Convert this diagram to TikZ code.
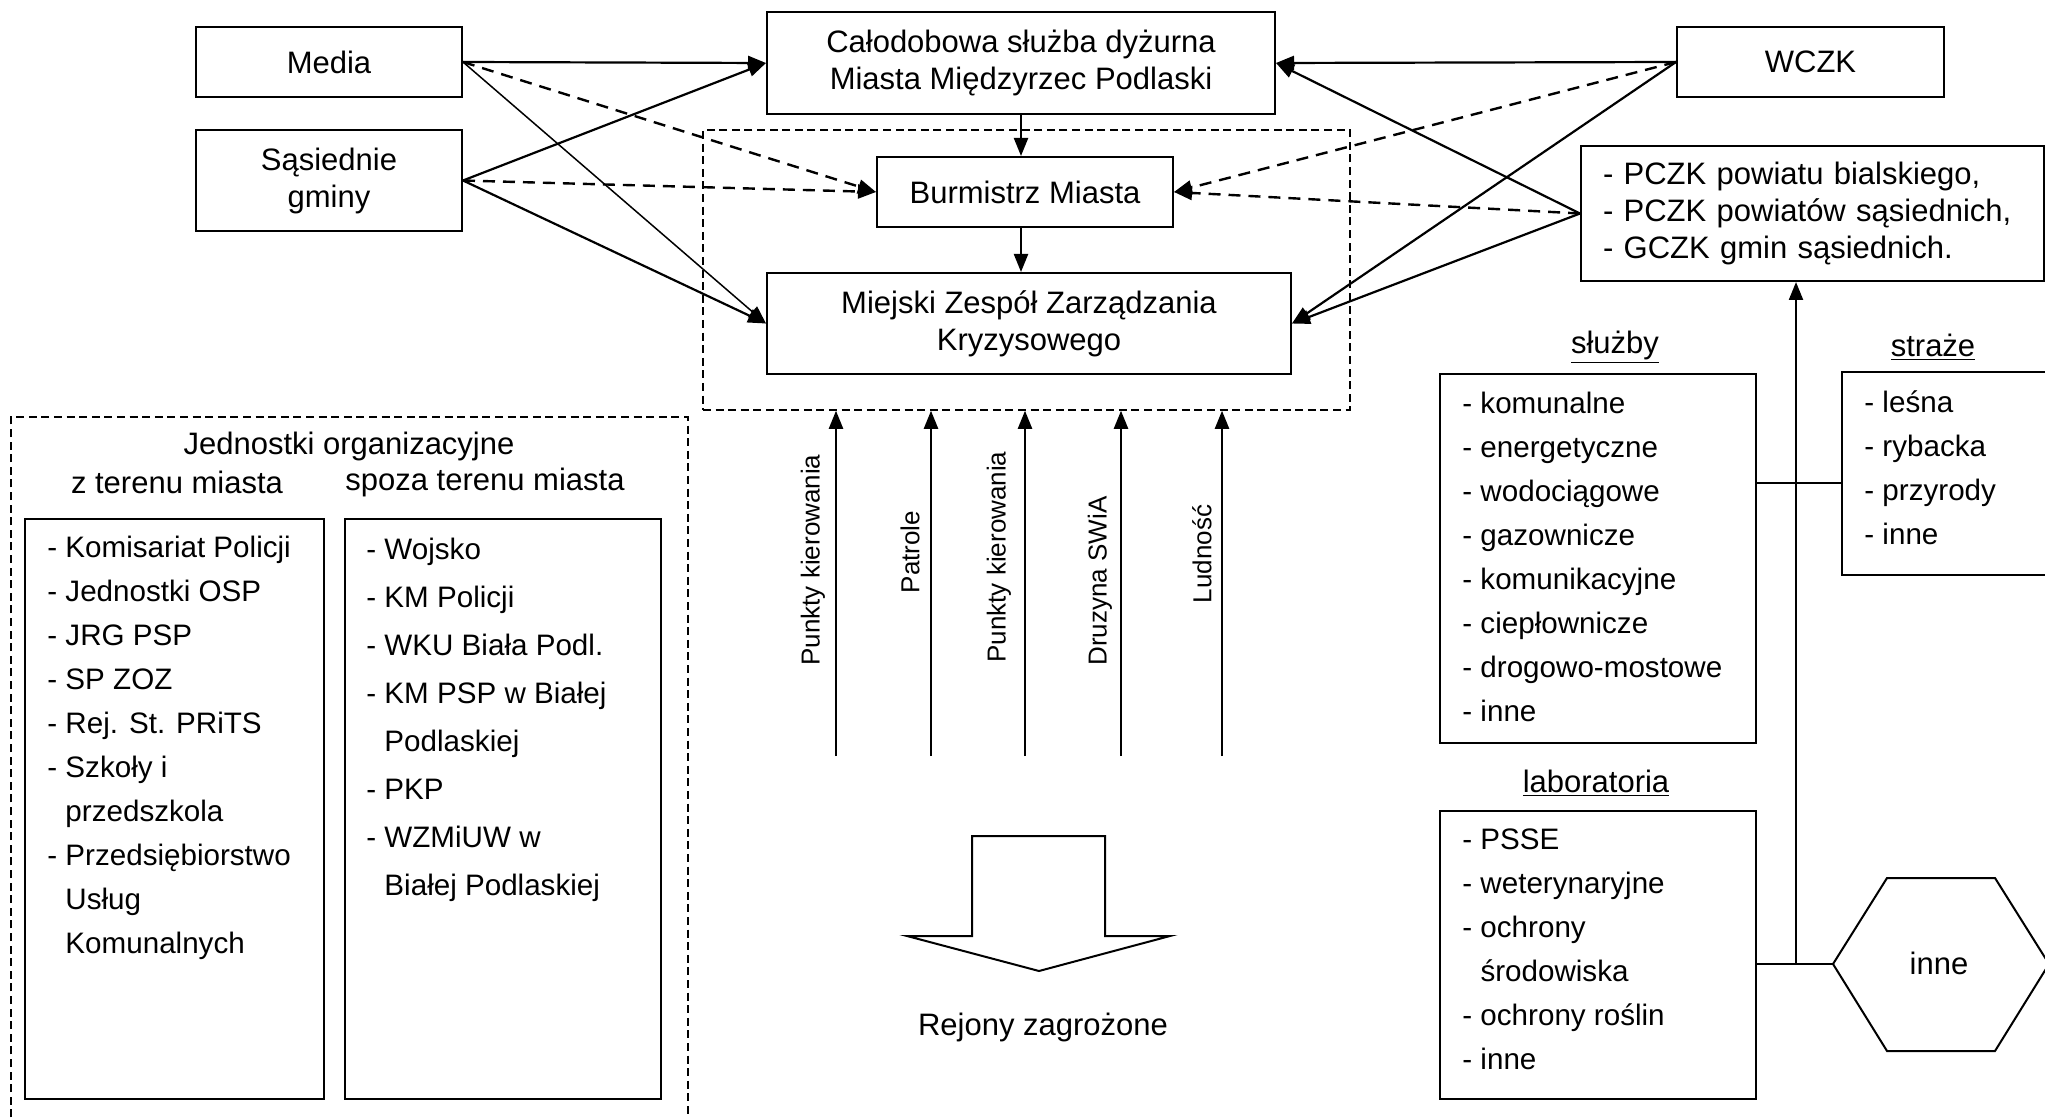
\documentclass[tikz,border=0pt]{standalone}
\usepackage{fontspec}
\setmainfont{Liberation Sans}
\usetikzlibrary{arrows.meta}

\begin{document}
\begin{tikzpicture}[x=0.5pt, y=-0.5pt, >={Triangle[length=9pt,width=7pt]},
    font=\fontsize{15.5}{18.5}\selectfont,
    box/.style={draw, line width=1pt, align=center, inner sep=0pt},
    link/.style={->, line width=1.1pt},
    linkd/.style={->, line width=1.2pt, dash pattern=on 6pt off 4pt},
    strefa/.style={line width=0.75pt, dash pattern=on 4pt off 2.3pt},
    item/.style={anchor=base west, inner sep=0pt, font=\fontsize{14.8}{17}\selectfont},
    vlabel/.style={rotate=90, inner sep=0pt, font=\fontsize{13}{15}\selectfont}]
    \useasboundingbox (0,0) rectangle (2045,1118);
    % Top row
    \node[box, minimum width=133pt, minimum height=35pt] (media) at (329,62) {Media};
    \node[box, minimum width=133pt, minimum height=50.5pt] (sasiednie) at (329,180.5) {Sąsiednie\\gminy};
    \node[box, minimum width=254pt, minimum height=51pt] (dyzurna) at (1021,63) {Całodobowa służba dyżurna\\Miasta Międzyrzec Podlaski};
    \node[box, minimum width=133.5pt, minimum height=35pt] (wczk) at (1810.5,62) {WCZK};
    \node[box, minimum width=148pt, minimum height=35pt] (burmistrz) at (1025,192) {Burmistrz Miasta};
    \node[box, minimum width=262pt, minimum height=50.5pt] (mzzk) at (1029,323.5) {Miejski Zespół Zarządzania\\Kryzysowego};
    \node[box, align=left, text width=209.5pt, inner xsep=11pt, minimum height=67.5pt] (pczk) at (1812.5,213.5)
        {- PCZK powiatu bialskiego,\\- PCZK powiatów sąsiednich,\\- GCZK gmin sąsiednich.};
    \node[strefa, draw, minimum width=323.5pt, minimum height=140pt, inner sep=0pt] (sztab) at (1026.5,270) {};
    % Links to the city
    \draw[link] (media.east) -- (dyzurna.west);
    \draw[linkd] (media.east) -- (burmistrz.west);
    \draw[->, line width=0.75pt] (media.east) -- (mzzk.west);
    \draw[link] (sasiednie.east) -- (dyzurna.west);
    \draw[linkd] (sasiednie.east) -- (burmistrz.west);
    \draw[link] (sasiednie.east) -- (mzzk.west);
    \draw[link] (wczk.west) -- (dyzurna.east);
    \draw[linkd] (wczk.west) -- (burmistrz.east);
    \draw[link] (wczk.west) -- (mzzk.east);
    \draw[link] (pczk.west) -- (dyzurna.east);
    \draw[linkd] (pczk.west) -- (burmistrz.east);
    \draw[link] (pczk.west) -- (mzzk.east);
    \draw[link] (dyzurna.south) -- (dyzurna.south |- burmistrz.north);
    \draw[link] (dyzurna.south |- burmistrz.south) -- (dyzurna.south |- mzzk.north);
    % Forces from below
    \foreach \x/\lx/\ly/\t [count=\i] in {836/813/560/Punkty kierowania, 931/910/552/Patrole,
        1025/999/557/Punkty kierowania, 1121/1100/581/Druzyna SWiA, 1222/1202/554/Ludność} {
        \coordinate (p\i) at (\x,756);
        \draw[link] (p\i) -- (p\i |- sztab.south);
        \node[vlabel] (pk\i) at (\lx,\ly) {\t};
    }
    \draw[line width=1pt] (972,936) -- (972,836) -- (1105,836) -- (1105,936) -- (1170,936)
        -- (1039,971) -- (907,936) -- cycle;
    \node (rejony) at (1043,1027) {Rejony zagrożone};
    % Organisational units
    \draw[strefa] (11,1130) -- (11,417) -- (688,417) -- (688,1130);
    \node (jedn) at (349,446) {Jednostki organizacyjne};
    \node (zterenu) at (177,482) {z terenu miasta};
    \node (spoza) at (485,482) {spoza terenu miasta};
    \node[box, minimum width=149.5pt, minimum height=290pt] (miasto) at (174.5,809) {};
    \node[box, minimum width=158pt, minimum height=290pt] (zewn) at (503,809) {};
    \foreach \t [count=\i from 0] in {- Komisariat Policji, - Jednostki OSP, - JRG PSP, - SP ZOZ,
        - Rej. St. PRiTS, - Szkoły i, \hphantom{- }przedszkola, - Przedsiębiorstwo,
        \hphantom{- }Usług, \hphantom{- }Komunalnych}
        \node[item] (lm\i) at (47,{557+44*\i}) {\t};
    \foreach \t [count=\i from 0] in {- Wojsko, - KM Policji, - WKU Biała Podl., - KM PSP w Białej,
        \hphantom{- }Podlaskiej, - PKP, - WZMiUW w, \hphantom{- }Białej Podlaskiej}
        \node[item] (ls\i) at (366,{559+48*\i}) {\t};
    % Services, guards, laboratories
    \node (sluzby) at (1615,347) {\underline{służby}};
    \node (straze) at (1933,347) {\underline{straże}};
    \node (laboratoria) at (1596,783) {\underline{laboratoria}};
    \node[box, minimum width=158pt, minimum height=184.5pt] (sluzbybox) at (1598,558.5) {};
    \node[box, minimum width=104pt, minimum height=101.5pt] (strazebox) at (1946,473.5) {};
    \node[box, minimum width=158pt, minimum height=144pt] (labbox) at (1598,955) {};
    \foreach \t [count=\i from 0] in {- komunalne, - energetyczne, - wodociągowe, - gazownicze,
        - komunikacyjne, - ciepłownicze, - drogowo-mostowe, - inne}
        \node[item] (sl\i) at (1462,{413+44*\i}) {\t};
    \foreach \t [count=\i from 0] in {- leśna, - rybacka, - przyrody, - inne}
        \node[item] (st\i) at (1864,{412+44*\i}) {\t};
    \foreach \t [count=\i from 0] in {- PSSE, - weterynaryjne, - ochrony, \hphantom{- }środowiska,
        - ochrony roślin, - inne}
        \node[item] (lb\i) at (1462,{849+44*\i}) {\t};
    \draw[line width=1pt] (1833,964) -- (1887,878) -- (1995,878) -- (2049,964) -- (1995,1051)
        -- (1887,1051) -- cycle;
    \node (inne) at (1939,963) {inne};
    \coordinate (hexw) at (1833,964);
    \coordinate (pion) at (1796,964);
    \coordinate (odnoga) at (1796,483);
    \draw[line width=1pt] (labbox.east |- hexw) -- (hexw);
    \draw[line width=1pt] (sluzbybox.east |- odnoga) -- (strazebox.west |- odnoga);
    \draw[link] (pion) -- (pion |- pczk.south);
\end{tikzpicture}
\end{document}
